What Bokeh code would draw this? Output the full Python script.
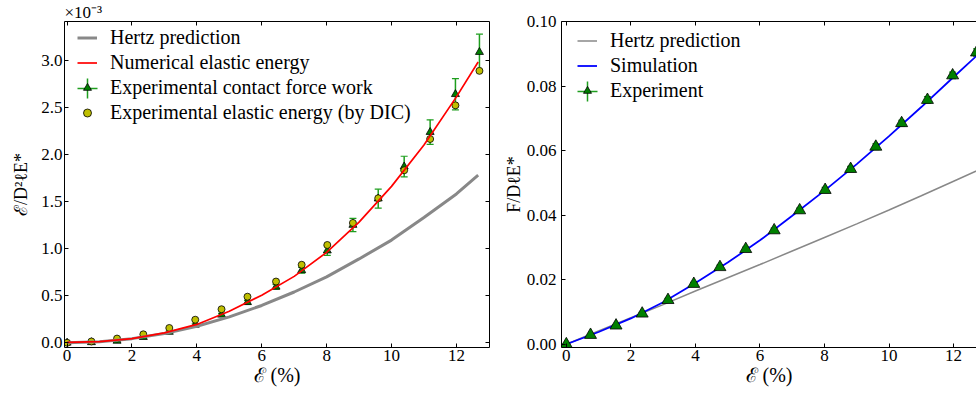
from bokeh.embed import file_html
from bokeh.layouts import row
from bokeh.models import (ColumnDataSource, FixedTicker, Legend, LegendItem,
                          LinearAxis, PrintfTickFormatter, Range1d, TeeHead, Title,
                          Whisker)
from bokeh.plotting import figure
from bokeh.resources import INLINE

SERIF = "Liberation Serif"
NAN = float("nan")

# Strain steps of the experiment (%), shared by both panels
strain_exp = [0.0, 0.75, 1.54, 2.35, 3.15, 3.95, 4.76, 5.56, 6.44, 7.23,
              8.02, 8.81, 9.59, 10.39, 11.19, 11.97, 12.71]

# Left panel: energies in units of 1e-3 (normalised by D^2 l E*)
work_exp = [0.0, 0.005, 0.02, 0.06, 0.115, 0.19, 0.297, 0.43, 0.594, 0.769,
            0.978, 1.25, 1.53, 1.87, 2.236, 2.638, 3.085]
work_err = [0.004, 0.005, 0.006, 0.008, 0.01, 0.012, 0.015, 0.02, 0.025, 0.03,
            0.05, 0.07, 0.1, 0.11, 0.13, 0.165, 0.19]
energy_dic = [0.0, 0.014, 0.045, 0.09, 0.157, 0.245, 0.356, 0.489, 0.65, 0.828,
              1.038, 1.272, 1.534, 1.831, 2.163, 2.52, 2.886]
strain_curve = [0, 1, 2, 3, 4, 5, 6, 7, 8, 9, 10, 11, 12, 12.67]
energy_hertz = [0.0, 0.011, 0.044, 0.099, 0.176, 0.275, 0.396, 0.539, 0.70,
                0.89, 1.09, 1.33, 1.58, 1.78]
energy_numerical = [0.005, 0.012, 0.045, 0.105, 0.195, 0.335, 0.505, 0.705,
                    0.96, 1.28, 1.66, 2.1, 2.61, 2.98]

# Right panel: contact force normalised by D l E*
force_exp = [0.0, 0.0029, 0.0058, 0.0095, 0.0137, 0.0187, 0.0239, 0.0295,
             0.0353, 0.0415, 0.0478, 0.0543, 0.0612, 0.0685, 0.0757, 0.0833, 0.0904]
force_err = [0.0002, 0.0002, 0.0003, 0.0004, 0.0005, 0.0005, 0.0006, 0.0006,
             0.0007, 0.0007, 0.0008, 0.0008, 0.0009, 0.0009, 0.001, 0.001, 0.0011]
strain_sim = [0, 1, 2, 3, 4, 5, 6, 7, 8, 9, 10, 11, 12, 13]
force_sim = [0.0, 0.0038, 0.0080, 0.0130, 0.0190, 0.0253, 0.0322, 0.0398,
             0.0476, 0.0558, 0.0645, 0.0735, 0.0828, 0.0920]
force_hertz = [0.0, 0.0041, 0.0082, 0.0123, 0.0165, 0.0206, 0.0247, 0.0289,
               0.0331, 0.0373, 0.0416, 0.0460, 0.0505, 0.0550]

x_ticks = [0, 2, 4, 6, 8, 10, 12]
energy_ticks = [0.0, 0.5, 1.0, 1.5, 2.0, 2.5, 3.0]
force_ticks = [0.0, 0.02, 0.04, 0.06, 0.08, 0.10]

GRAY = "#888888"
GREEN = "#008000"
BAR_GREEN = "#1e9e1e"
YELLOW = "#bfbf00"


def frame_axes(p, yticks, yfmt, sides, ylabel, ystand, ylab_stand):
    for side in sides:
        horizontal = side in ("below", "above")
        ticks = x_ticks if horizontal else yticks
        ax = LinearAxis(ticker=FixedTicker(ticks=ticks))
        ax.axis_line_color = "black"
        ax.axis_line_width = 1
        ax.major_tick_line_color = "black"
        ax.major_tick_line_width = 1
        ax.major_tick_in = 4
        ax.major_tick_out = 0
        ax.minor_tick_in = 0
        ax.minor_tick_out = 0
        if side in ("below", "left"):
            ax.major_label_text_font = SERIF
            ax.major_label_text_font_size = "17px"
            ax.major_label_text_color = "black"
            ax.axis_label_text_font = SERIF
            ax.axis_label_text_font_style = "normal"
            ax.axis_label_text_color = "black"
            if side == "below":
                ax.major_label_standoff = 2
                ax.axis_label = "ℰ (%)"
                ax.axis_label_text_font_size = "20px"
                ax.axis_label_standoff = 0
            else:
                ax.formatter = PrintfTickFormatter(format=yfmt)
                ax.major_label_standoff = ystand
                ax.axis_label = ylabel
                ax.axis_label_text_font_size = "18px"
                ax.axis_label_standoff = ylab_stand
        else:
            ax.major_label_text_font_size = "0px"
            ax.major_label_standoff = 0
            ax.major_label_overrides = {t: "" for t in ticks}
        p.add_layout(ax, side)


def errorbar_legend(p, vx, vy):
    # large green cross drawn behind the triangle of the "experiment" entry
    cross = p.scatter(x=[NAN], y=[NAN], marker="cross", line_color=BAR_GREEN,
                      line_width=1.5)
    leg = Legend(items=[LegendItem(label=" ", renderers=[cross])],
                 location=(vx, vy), glyph_width=50, glyph_height=50,
                 label_height=50, padding=0, margin=0, spacing=0,
                 border_line_color=None, background_fill_alpha=0,
                 label_text_font_size="1px")
    p.add_layout(leg)


def text_legend(items, vx, vy):
    return Legend(items=items, location=(vx, vy), glyph_width=20, glyph_height=25,
                  label_height=25, spacing=0, padding=0, margin=0, label_standoff=13,
                  label_text_font=SERIF, label_text_font_size="20px",
                  label_text_color="black", border_line_color=None,
                  background_fill_alpha=0)


# ---------------- left panel: elastic energy ----------------
p1 = figure(width=500, height=396, x_range=Range1d(-0.08, 13.02),
            y_range=Range1d(-0.05, 3.41), x_axis_type=None, y_axis_type=None,
            output_backend="svg", toolbar_location=None,
            min_border_left=64, min_border_right=11, min_border_top=19,
            min_border_bottom=49)
p1.outline_line_color = None
p1.title = Title(text="×10⁻³", align="left", offset=0, standoff=0,
                 text_font=SERIF, text_font_size="17px", text_font_style="normal",
                 text_color="black")
frame_axes(p1, energy_ticks, "%.1f", ["below", "left", "above", "right"],
           "ℰ/D²ℓE*", 2, 7)

src1 = ColumnDataSource(dict(x=strain_exp, y=work_exp,
                             lo=[v - e for v, e in zip(work_exp, work_err)],
                             hi=[v + e for v, e in zip(work_exp, work_err)]))
p1.add_layout(Whisker(source=src1, base="x", lower="lo", upper="hi",
                      dimension="height", line_color=BAR_GREEN, line_width=1.5,
                      lower_head=TeeHead(size=7, line_color=BAR_GREEN, line_width=1.2),
                      upper_head=TeeHead(size=7, line_color=BAR_GREEN, line_width=1.2)))
tri1 = p1.scatter("x", "y", source=src1, marker="triangle", size=8,
                  fill_color=GREEN, line_color="black", line_width=0.8)
dic1 = p1.scatter(strain_exp, energy_dic, marker="circle", size=7,
                  fill_color=YELLOW, line_color="black", line_width=0.8)
hertz1 = p1.line(strain_curve, energy_hertz, line_color=GRAY, line_width=3)
num1 = p1.line(strain_curve, energy_numerical, line_color="red", line_width=1.7)

errorbar_legend(p1, -2, 234.5)
p1.add_layout(text_legend(
    [LegendItem(label="Hertz prediction", renderers=[hertz1]),
     LegendItem(label="Numerical elastic energy", renderers=[num1]),
     LegendItem(label="Experimental contact force work", renderers=[tri1]),
     LegendItem(label="Experimental elastic energy (by DIC)", renderers=[dic1])],
    13, 222))

# ---------------- right panel: contact force ----------------
p2 = figure(width=476, height=396, x_range=Range1d(-0.15, 12.71),
            y_range=Range1d(-0.001, 0.1), x_axis_type=None, y_axis_type=None,
            output_backend="svg", toolbar_location=None,
            min_border_left=59, min_border_right=0, min_border_top=19,
            min_border_bottom=49)
p2.outline_line_color = None
frame_axes(p2, force_ticks, "%.2f", ["below", "left", "above"],
           "F/DℓE*", 5, 0)

hertz2 = p2.line(strain_sim, force_hertz, line_color=GRAY, line_width=1.5)
sim2 = p2.line(strain_sim, force_sim, line_color="blue", line_width=1.8)
src2 = ColumnDataSource(dict(x=strain_exp, y=force_exp,
                             lo=[v - e for v, e in zip(force_exp, force_err)],
                             hi=[v + e for v, e in zip(force_exp, force_err)]))
p2.add_layout(Whisker(source=src2, base="x", lower="lo", upper="hi",
                      dimension="height", line_color=BAR_GREEN, line_width=1.5,
                      lower_head=TeeHead(size=7, line_color=BAR_GREEN, line_width=1.2),
                      upper_head=TeeHead(size=7, line_color=BAR_GREEN, line_width=1.2)))
tri2 = p2.scatter("x", "y", source=src2, marker="triangle", size=12,
                  fill_color=GREEN, line_color="black", line_width=0.8)

errorbar_legend(p2, 1, 231.5)
p2.add_layout(text_legend(
    [LegendItem(label="Hertz prediction", renderers=[hertz2]),
     LegendItem(label="Simulation", renderers=[sim2]),
     LegendItem(label="Experiment", renderers=[tri2])],
    16, 244))

layout = row(p1, p2)
open("out.html", "w").write(file_html(layout, INLINE))
